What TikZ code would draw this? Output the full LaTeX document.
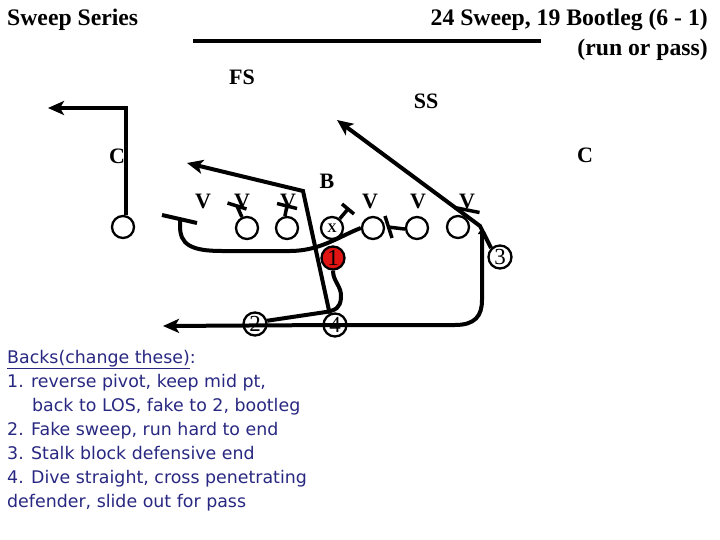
\documentclass[tikz,border=0pt]{standalone}
\usepackage{fontspec}
\setmainfont{Liberation Serif}
\newfontfamily\notesfont{DejaVu Sans}
\usetikzlibrary{arrows.meta}
\definecolor{notesblue}{RGB}{40,40,130}
\definecolor{qbred}{RGB}{225,20,20}
\tikzset{
  lineman/.style={circle,draw,line width=2.3pt,minimum size=22pt,inner sep=0pt},
  backnode/.style={circle,draw,line width=2.3pt,minimum size=23pt,inner sep=0pt,
    font=\fontsize{23}{23}\selectfont},
  title/.style={font=\bfseries\fontsize{23.7}{24}\selectfont,inner sep=0pt},
  deflabel/.style={font=\bfseries\fontsize{22}{22}\selectfont,inner sep=0pt},
  notes/.style={font=\notesfont\fontsize{17.4}{24}\selectfont,text=notesblue,
    inner sep=0pt,anchor=base west},
  route/.style={line width=4pt},
  blk/.style={line width=3.5pt},
  arr/.style={-{Stealth[length=16pt,width=14pt,inset=4pt]}},
  smallarr/.style={-{Triangle[length=6pt,width=8pt]}}
}

\begin{document}
\begin{tikzpicture}[x=1pt,y=-1pt]
  \useasboundingbox (0,0) rectangle (720,540);
  % titles
  \node[title,anchor=base west] (series) at (7,26) {Sweep Series};
  \node[title,anchor=base east] (play) at (708,26) {24 Sweep, 19 Bootleg (6 - 1)};
  \node[title,anchor=base east] (runpass) at (708,56) {(run or pass)};
  \draw[line width=4.5pt] (193,41) -- (541,41);

  % defense
  \node[deflabel] (fs) at (242,77) {FS};
  \node[deflabel] (ss) at (426,101) {SS};
  \node[deflabel] (cl) at (117,156) {C};
  \node[deflabel] (cr) at (585,155) {C};
  \node[deflabel] (lb) at (327,181) {B};
  \node[deflabel] (v1) at (203,201) {V};
  \node[deflabel] (v2) at (242,201) {V};
  \node[deflabel] (v3) at (288,201) {V};
  \node[deflabel] (v4) at (370,201) {V};
  \node[deflabel] (v5) at (418,201) {V};
  \node[deflabel] (v6) at (467,201) {V};

  % offense
  \node[lineman] (l1) at (123,227) {};
  \node[lineman] (l2) at (247,228) {};
  \node[lineman] (l3) at (287,228) {};
  \node[lineman,font=\bfseries\fontsize{13}{13}\selectfont] (l4) at (332,228) {\raisebox{-5pt}{X}};
  \node[lineman] (l5) at (373,228) {};
  \node[lineman] (l6) at (417,228) {};
  \node[lineman] (l7) at (458,227) {};
  \node[backnode,fill=qbred] (b1) at (333,258) {1};
  \node[backnode] (b2) at (255,324) {2};
  \node[backnode] (b3) at (500,257) {3};
  \node[backnode] (b4) at (335,325) {4};

  \coordinate (ltip) at (48,108);
  \coordinate (tpull) at (180,219);
  \coordinate (tb2) at (237,206);
  \coordinate (tb3) at (287,206);
  \coordinate (tb4) at (348,209);
  \coordinate (tb6) at (388,227);
  \coordinate (tb7) at (467,210);
  \coordinate (bcut) at (303,191);
  \coordinate (btip) at (187,163);
  \coordinate (stip) at (163,326);
  \coordinate (etip) at (482,228);
  \coordinate (sstip) at (337,120);

  % routes
  \draw[route,arr] ([xshift=3pt]l1.north) |- (ltip);
  \draw[route] (l5.west) .. controls (340,236) and (320,251) .. (290,251)
    -- (222,251) .. controls (190,251) and (180,244) .. (180,226) -- (tpull);
  \draw[route] (tpull) ++(-18,-4) -- ++(35,8);
  \draw[blk] (l2.115) -- (tb2) ++(-9.5,-3) -- ++(19,6);
  \draw[blk] (l3.100) -- (tb3) ++(-10,-2.5) -- ++(20,5);
  \draw[blk] (l4.50) -- (tb4) ++(-6,-5) -- ++(12,10);
  \draw[blk] (l6.185) -- (tb6) ++(-3,-11) -- ++(7,22);
  \draw[blk] (tb7) ++(-12.5,-2.5) -- ++(25,5);
  \draw[route,arr] (b4.115) -- (bcut) -- (btip);
  \draw[route] (b1.south) .. controls (333,282) and (342,286) .. (341,298)
    .. controls (340,308) and (336,310) .. (326,312) -- (b2.15);
  \draw[route,arr] (b4.center) -- (stip);
  \draw[route,smallarr] (b4.center) -- (455,325) .. controls (475,325) and (482,316)
    .. (482,300) -- (etip);
  \draw[route,arr] (b3.135) -- (480,226) -- (sstip);

  % notes
  \node[notes] (n1) at (7,363) {\underline{Backs(change these)}:};
  \node[notes] (n2) at (7,387) {1. reverse pivot, keep mid pt,};
  \node[notes] (n3) at (32,411) {back to LOS, fake to 2, bootleg};
  \node[notes] (n4) at (7,435) {2. Fake sweep, run hard to end};
  \node[notes] (n5) at (7,459) {3. Stalk block defensive end};
  \node[notes] (n6) at (7,483) {4. Dive straight, cross penetrating};
  \node[notes] (n7) at (7,507) {defender, slide out for pass};
\end{tikzpicture}
\end{document}
